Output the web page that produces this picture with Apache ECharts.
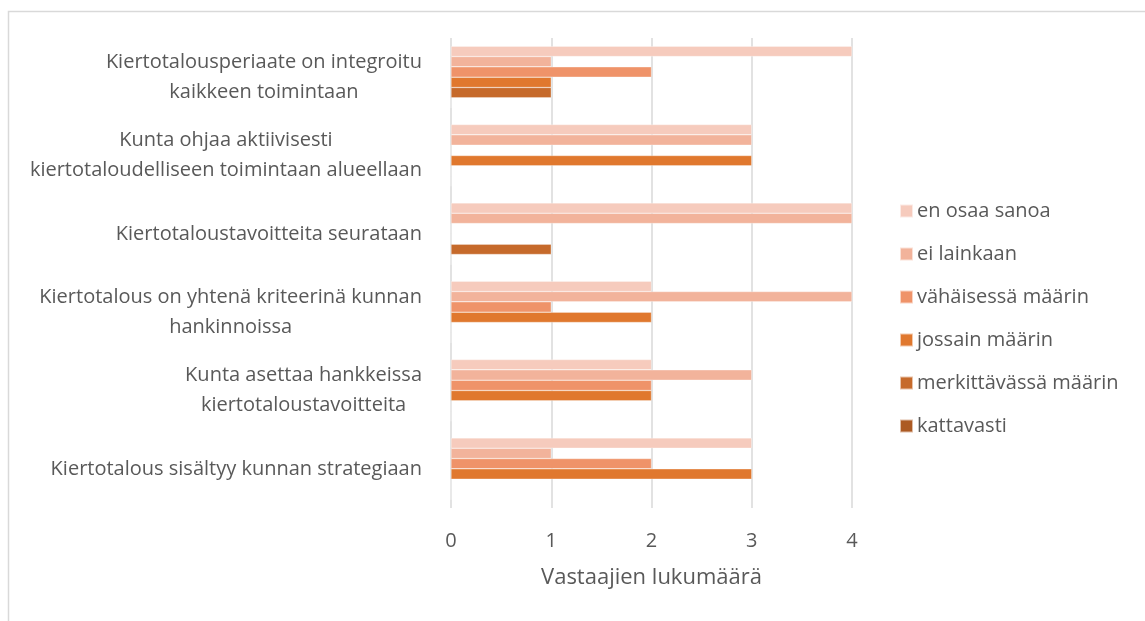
<!DOCTYPE html>
<html>
<head>
<meta charset="utf-8">
<script src="https://cdn.jsdelivr.net/npm/echarts@6/dist/echarts.min.js"></script>
<style>
  html, body { margin: 0; padding: 0; background: #fff; }
  #chart { width: 1145px; height: 621px; }
</style>
</head>
<body>
<div id="chart"></div>
<script>
// kategoriat ylhäältä alas
var categories = [
    'Kiertotalousperiaate on integroitu\nkaikkeen toimintaan',
    'Kunta ohjaa aktiivisesti\nkiertotaloudelliseen toimintaan alueellaan',
    'Kiertotaloustavoitteita seurataan',
    'Kiertotalous on yhtenä kriteerinä kunnan\nhankinnoissa',
    'Kunta asettaa hankkeissa\nkiertotaloustavoitteita',
    'Kiertotalous sisältyy kunnan strategiaan'
];
var seriesNames = ['en osaa sanoa', 'ei lainkaan', 'vähäisessä määrin', 'jossain määrin', 'merkittävässä määrin', 'kattavasti'];
var seriesColors = ['#F6CBBD', '#F2B39B', '#EF9369', '#E0782E', '#C66A2B', '#AC5A23'];

var enOsaaSanoa = [4, 3, 4, 2, 2, 3];
var eiLainkaan = [1, 3, 4, 4, 3, 1];
var vahaisessaMaarin = [2, 0, 0, 1, 2, 2];
var jossainMaarin = [1, 3, 0, 2, 2, 3];
var merkittavassaMaarin = [1, 0, 1, 0, 0, 0];
var kattavasti = [0, 0, 0, 0, 0, 0];

var xTicks = [0, 1, 2, 3, 4];

var seriesData = [enOsaaSanoa, eiLainkaan, vahaisessaMaarin, jossainMaarin, merkittavassaMaarin, kattavasti];
var fontFamily = '"Open Sans", Lato, sans-serif';

var series = seriesNames.map(function (name, i) {
    return {
        name: name,
        type: 'bar',
        data: seriesData[i],
        barGap: '0%',
        barCategoryGap: '21%',
        itemStyle: {color: seriesColors[i], borderColor: 'rgba(255,255,255,0.6)', borderWidth: 0.5}
    };
});

var option = {
    animation: false,
    backgroundColor: '#fff',
    textStyle: {fontFamily: fontFamily},
    graphic: [{
        type: 'rect',
        left: 6, top: 9,
        shape: {width: 1150, height: 620},
        style: {fill: 'none', stroke: '#D9D9D9', lineWidth: 1.5}
    }],
    grid: {left: 451, right: 293, top: 38, bottom: 113},
    legend: {
        orient: 'vertical',
        left: 899,
        top: 201,
        padding: 0,
        itemWidth: 13,
        itemHeight: 13,
        itemGap: 23,
        icon: 'rect',
        textStyle: {color: '#595959', fontSize: 20, fontFamily: fontFamily, padding: [0, 0, 0, -1]},
        data: seriesNames
    },
    xAxis: {
        type: 'value',
        min: xTicks[0],
        max: xTicks[xTicks.length - 1],
        interval: 1,
        name: 'Vastaajien lukumäärä',
        nameLocation: 'middle',
        nameGap: 59,
        nameTextStyle: {color: '#595959', fontSize: 22, fontFamily: fontFamily},
        axisLine: {show: false},
        axisTick: {show: false},
        axisLabel: {color: '#595959', fontSize: 20, margin: 23, fontFamily: fontFamily},
        splitLine: {lineStyle: {color: '#D9D9D9', width: 1.5}}
    },
    yAxis: {
        type: 'category',
        inverse: true,
        data: categories,
        axisLine: {show: false},
        axisTick: {show: false},
        axisLabel: {
            margin: 29,
            formatter: function (v) {
                return v.split('\n').map(function (s) { return '{c|' + s + '}'; }).join('\n');
            },
            rich: {
                c: {align: 'center', color: '#595959', fontSize: 20, lineHeight: 30, fontFamily: fontFamily}
            }
        }
    },
    series: series
};

var myChart = echarts.init(document.getElementById('chart'));
myChart.setOption(option);
</script>
</body>
</html>
